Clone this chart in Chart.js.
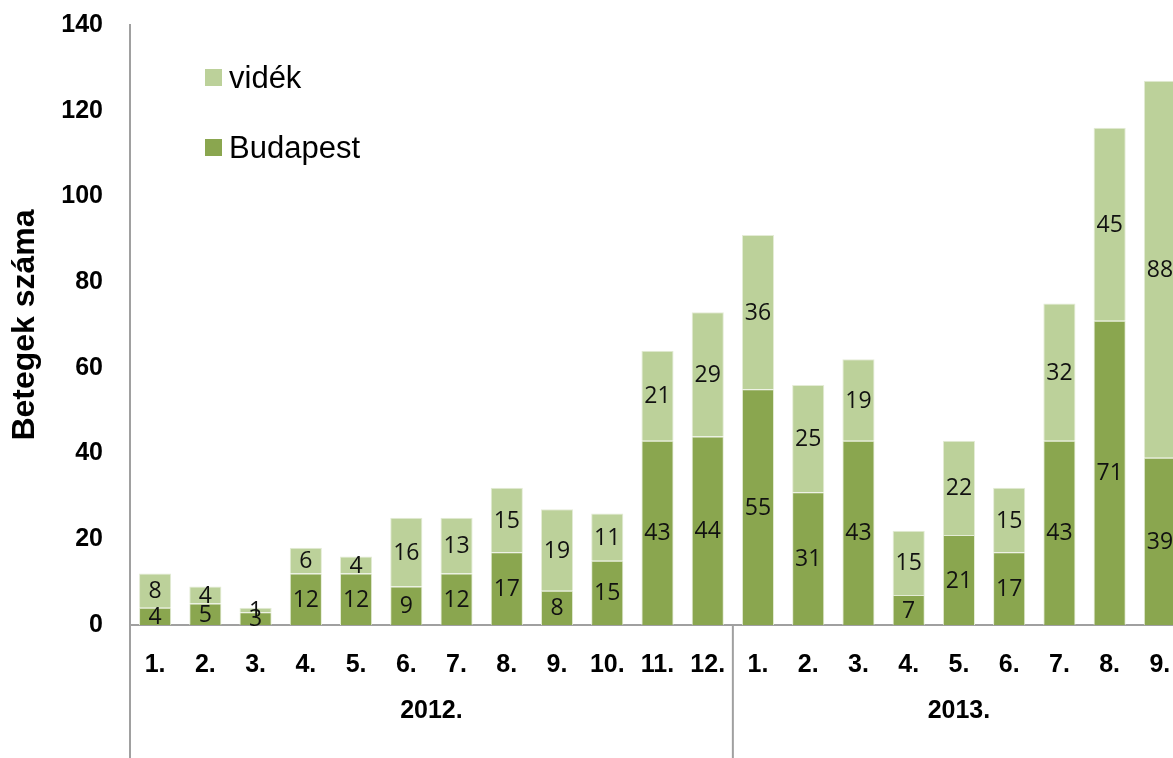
<!DOCTYPE html>
<html>
<head>
<meta charset="utf-8">
<script src="https://cdn.jsdelivr.net/npm/chart.js@4/dist/chart.umd.min.js"></script>
<style>
  html, body { margin: 0; padding: 0; background: #fff; overflow: hidden; width: 1173px; height: 758px; }
  #wrap { width: 1200px; height: 770px; position: relative; }
</style>
</head>
<body>
<div id="wrap"><canvas id="myChart"></canvas></div>
<script>
// months (two-level axis: month + year)
const months = ['1.', '2.', '3.', '4.', '5.', '6.', '7.', '8.', '9.', '10.', '11.', '12.',
                '1.', '2.', '3.', '4.', '5.', '6.', '7.', '8.', '9.'];
const years = ['2012.', '2013.'];
const monthsPerYear = [12, 9];

const budapest = [4, 5, 3, 12, 12, 9, 12, 17, 8, 15, 43, 44, 55, 31, 43, 7, 21, 17, 43, 71, 39];
const videk = [8, 4, 1, 6, 4, 16, 13, 15, 19, 11, 21, 29, 36, 25, 19, 15, 22, 15, 32, 45, 88];

const axisFont = '"Liberation Sans", Arial, sans-serif';
const lineGray = '#a0a0a0';

// value labels in the middle of each segment
const valueLabels = {
    id: 'valueLabels',
    afterDatasetsDraw(chart) {
        const ctx = chart.ctx;
        ctx.save();
        ctx.font = '23px "Open Sans", sans-serif';
        ctx.fillStyle = '#111';
        ctx.textAlign = 'center';
        ctx.textBaseline = 'middle';
        chart.data.datasets.forEach((ds, i) => {
            chart.getDatasetMeta(i).data.forEach((bar, j) => {
                ctx.fillText(ds.data[j], bar.x, (bar.y + bar.base) / 2 + 1);
            });
        });
        ctx.restore();
    }
};

// year row, separators and legend
const extras = {
    id: 'extras',
    afterDraw(chart) {
        const ctx = chart.ctx;
        const area = chart.chartArea;
        const bottom = chart.height;
        ctx.save();
        ctx.strokeStyle = lineGray;
        ctx.lineWidth = 2;
        // y axis continues down through the label rows
        ctx.beginPath();
        ctx.moveTo(area.left, area.bottom);
        ctx.lineTo(area.left, bottom);
        ctx.stroke();

        ctx.font = 'bold 25px ' + axisFont;
        ctx.fillStyle = '#000';
        ctx.textAlign = 'center';
        ctx.textBaseline = 'middle';
        let start = 0;
        const slot = (area.right - area.left) / months.length;
        years.forEach((y, k) => {
            const left = area.left + start * slot;
            const right = left + monthsPerYear[k] * slot;
            ctx.fillText(y, (left + right) / 2, 711);
            if (k > 0) {
                ctx.beginPath();
                ctx.moveTo(left, area.bottom);
                ctx.lineTo(left, bottom);
                ctx.stroke();
            }
            start += monthsPerYear[k];
        });

        // legend (vidék on top)
        ctx.font = '31px ' + axisFont;
        ctx.textAlign = 'left';
        const items = [chart.data.datasets[1], chart.data.datasets[0]];
        items.forEach((ds, k) => {
            const cy = 78 + k * 70;
            ctx.fillStyle = ds.backgroundColor;
            ctx.fillRect(205, cy - 9, 17, 17);
            ctx.fillStyle = '#000';
            ctx.fillText(ds.label, 229, cy + 1);
        });
        ctx.restore();
    }
};

const ctx = document.getElementById('myChart').getContext('2d');
new Chart(ctx, {
    type: 'bar',
    data: {
        labels: months,
        datasets: [
            {
                label: 'Budapest',
                data: budapest,
                backgroundColor: '#8aa64f',
                borderColor: '#e4ecd6',
                borderWidth: 1,
                barPercentage: 0.64,
                categoryPercentage: 1
            },
            {
                label: 'vidék',
                data: videk,
                backgroundColor: '#bcd19a',
                borderColor: '#e4ecd6',
                borderWidth: 1,
                barPercentage: 0.64,
                categoryPercentage: 1
            }
        ]
    },
    options: {
        responsive: true,
        maintainAspectRatio: false,
        animation: false,
        layout: { padding: { top: 25, right: 15, left: 0, bottom: 0 } },
        plugins: {
            legend: { display: false },
            tooltip: { enabled: false }
        },
        scales: {
            x: {
                stacked: true,
                grid: { display: false, drawTicks: false },
                border: { color: lineGray, width: 2 },
                ticks: {
                    color: '#000',
                    font: { family: axisFont, size: 25, weight: 'bold' },
                    padding: 25,
                    maxRotation: 0,
                    autoSkip: false
                },
                afterFit(scale) { scale.height = 145; }
            },
            y: {
                stacked: true,
                min: 0,
                max: 140,
                grid: { display: false, drawTicks: false },
                border: { color: lineGray, width: 2 },
                ticks: {
                    stepSize: 20,
                    color: '#000',
                    font: { family: axisFont, size: 25, weight: 'bold' },
                    padding: 27
                },
                title: {
                    display: true,
                    text: 'Betegek száma',
                    color: '#000',
                    font: { family: axisFont, size: 32, weight: 'bold' },
                    padding: { top: 6, bottom: 0 }
                },
                afterFit(scale) {
                    scale.width = 130;
                    scale.paddingTop = 0;
                    scale.paddingBottom = 0;
                }
            }
        }
    },
    plugins: [valueLabels, extras]
});
</script>
</body>
</html>
